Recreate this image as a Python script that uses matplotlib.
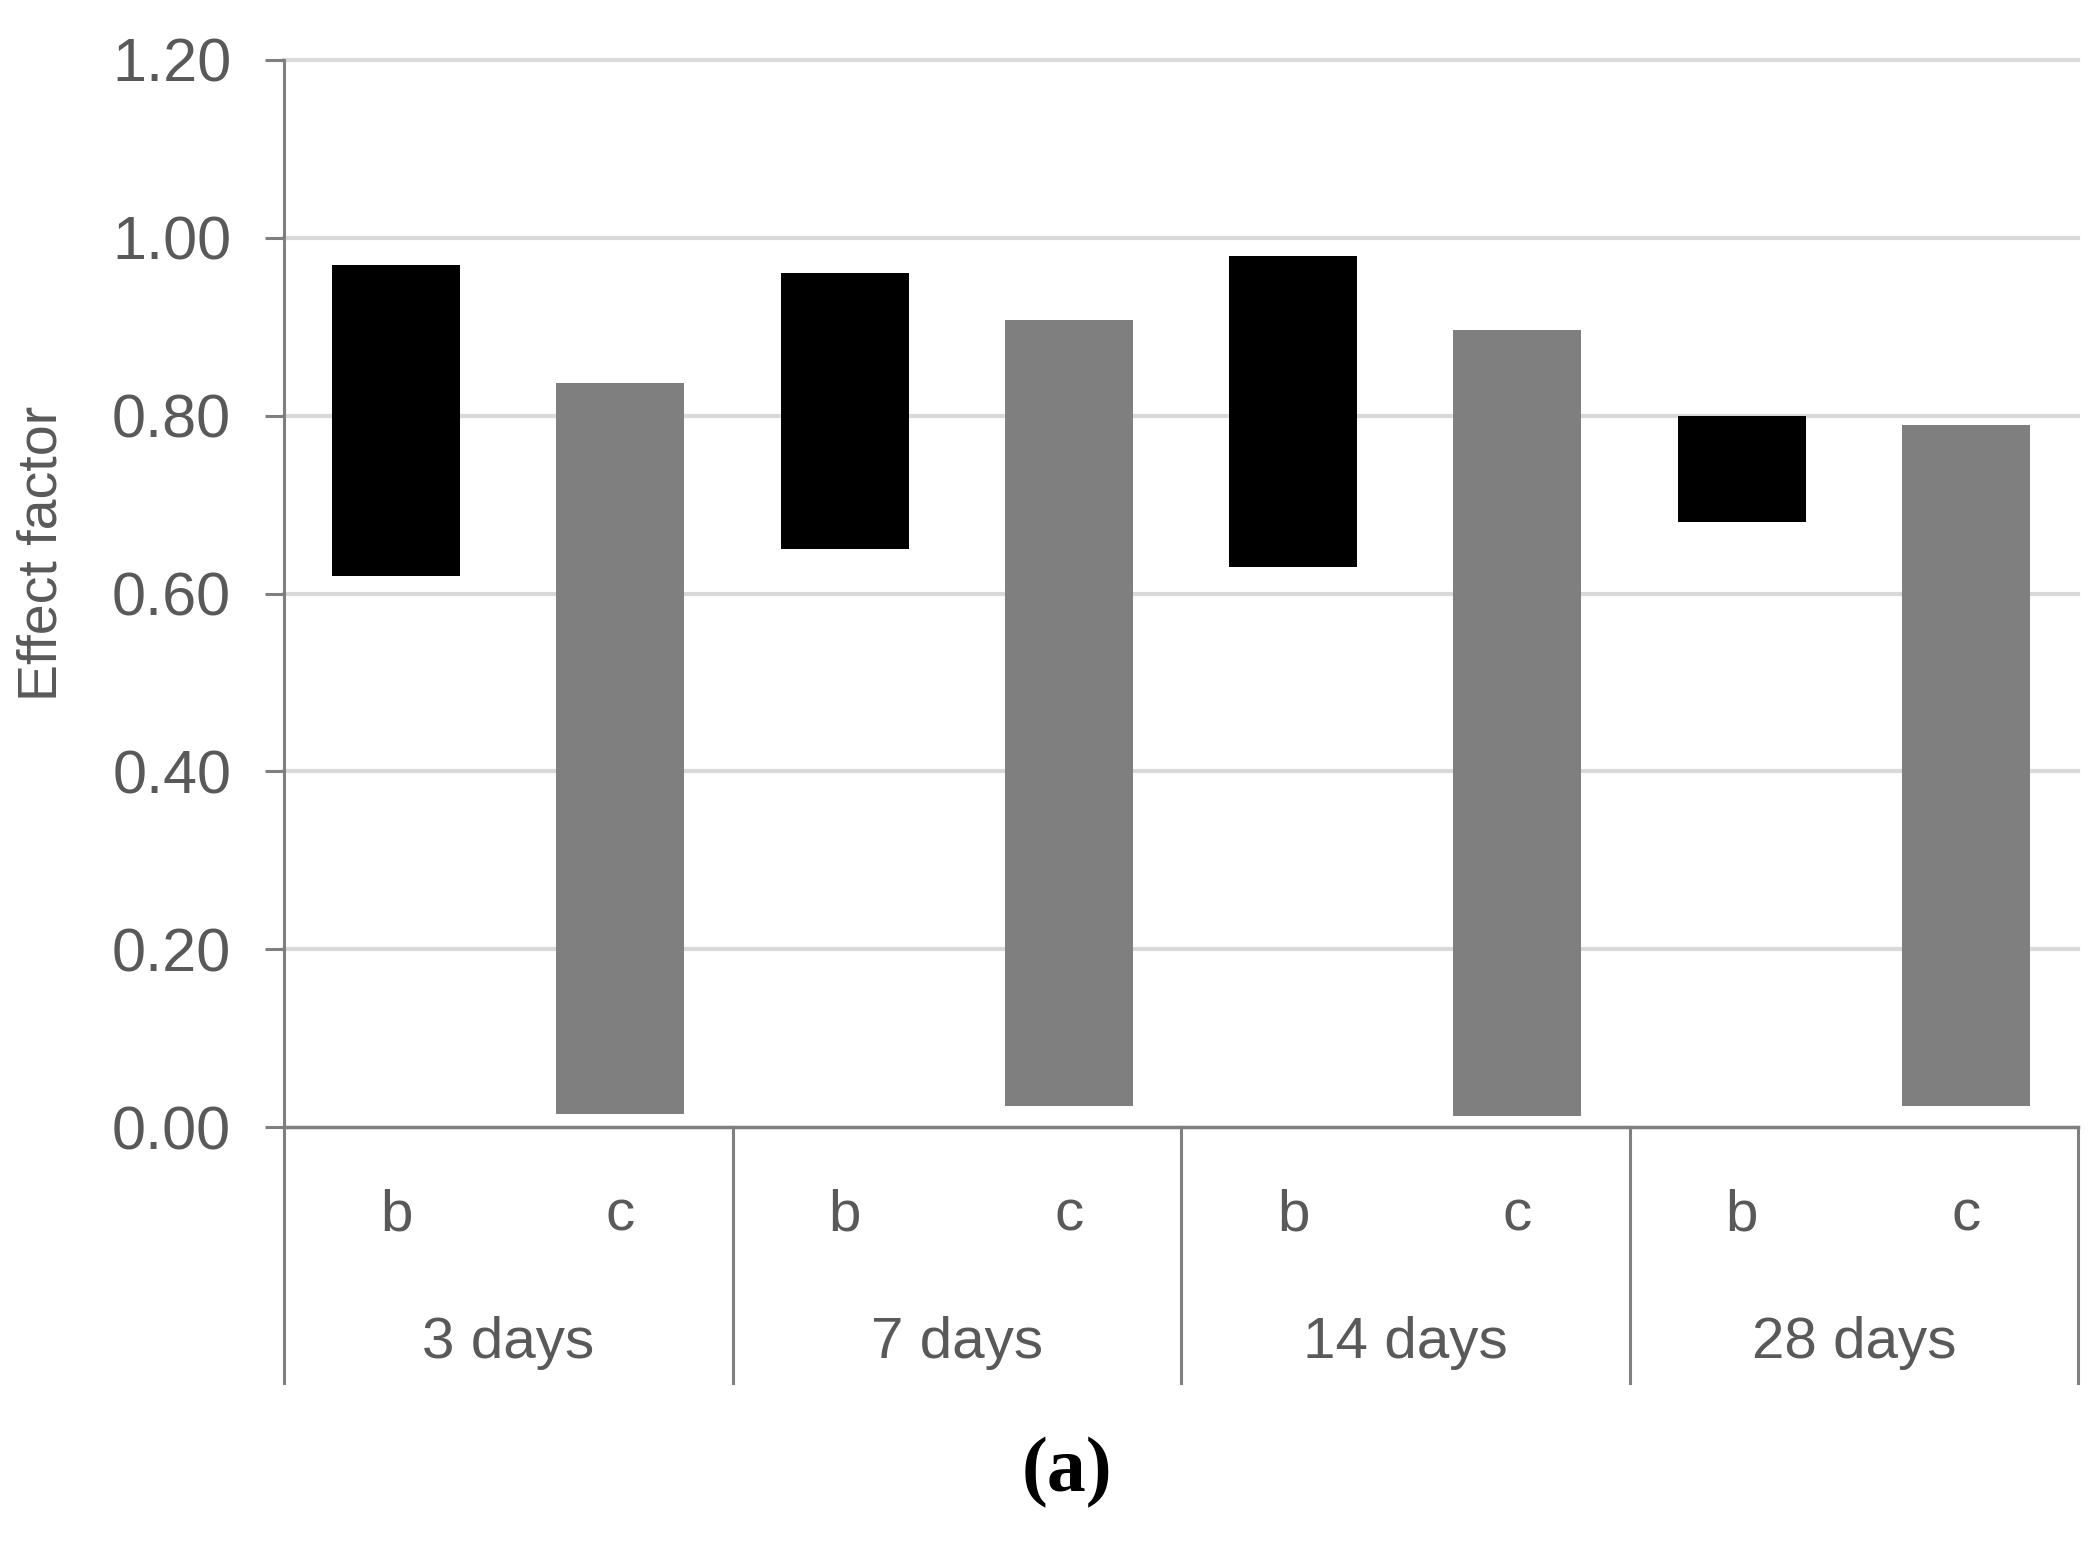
import numpy as np
import matplotlib
matplotlib.use("Agg")
import matplotlib.pyplot as plt

# floating bars: lower and upper effect factor per curing age
groups = ["3 days", "7 days", "14 days", "28 days"]
sub_labels = ["b", "c"]
b_low = [0.62, 0.65, 0.63, 0.68]
b_high = [0.97, 0.96, 0.98, 0.80]
c_low = [0.015, 0.024, 0.012, 0.024]
c_high = [0.837, 0.908, 0.896, 0.789]
yticks = [0.0, 0.2, 0.4, 0.6, 0.8, 1.0, 1.2]

txt_col = "#595959"
sans = ["Liberation Sans Narrow", "Liberation Sans", "DejaVu Sans"]

fig = plt.figure(figsize=(20.99, 15.45), dpi=100)
ax = fig.add_axes([284 / 2099, 1 - 1127 / 1545, (2078 - 284) / 2099, (1127 - 60) / 1545])

n = len(groups)
xb = np.arange(n) * 2
xc = xb + 1
w = 0.57
ax.bar(xb, np.array(b_high) - np.array(b_low), bottom=b_low, width=w, color="black", zorder=3)
ax.bar(xc, np.array(c_high) - np.array(c_low), bottom=c_low, width=w, color="#7f7f7f", zorder=3)

ax.set_xlim(-0.5, 2 * n - 0.5)
ax.set_ylim(0, 1.2)

for v in yticks[1:]:
    ax.axhline(v, color="#d9d9d9", lw=3, zorder=1, clip_on=False)

for s in ["top", "right"]:
    ax.spines[s].set_visible(False)
ax.spines["left"].set_color("#7f7f7f")
ax.spines["left"].set_linewidth(2.2)
ax.spines["bottom"].set_color("#7f7f7f")
ax.spines["bottom"].set_linewidth(2.5)

ax.set_yticks(yticks)
ax.set_yticklabels([f"{v:.2f}" for v in yticks], family=sans, fontsize=44, color=txt_col)
ax.tick_params(axis="y", length=14, width=2.2, color="#7f7f7f", pad=24)
ax.set_xticks([])

trans = ax.get_xaxis_transform()
for i in range(n + 1):
    ax.plot([2 * i - 0.5, 2 * i - 0.5], [0, -0.24], color="#7f7f7f", lw=2.2,
            transform=trans, clip_on=False)
for i, g in enumerate(groups):
    ax.text(xb[i], -0.0825, sub_labels[0], transform=trans, ha="center", va="center",
            family=sans, fontsize=42, color=txt_col)
    ax.text(xc[i], -0.0825, sub_labels[1], transform=trans, ha="center", va="center",
            family=sans, fontsize=42, color=txt_col)
    ax.text(xb[i] + 0.5, -0.2024, g, transform=trans, ha="center", va="center",
            family=sans, fontsize=42, color=txt_col)

fig.text(43 / 2099, 1 - 553 / 1545, "Effect factor", rotation=90, ha="center", va="center",
         family=sans, fontsize=40, color=txt_col)
fig.text(1067 / 2099, 1 - 1473 / 1545, "(a)", ha="center", va="center",
         family=["Liberation Serif", "DejaVu Serif"], fontweight="bold", fontsize=56, color="black")

fig.savefig("out.png", dpi=100, facecolor="white")
